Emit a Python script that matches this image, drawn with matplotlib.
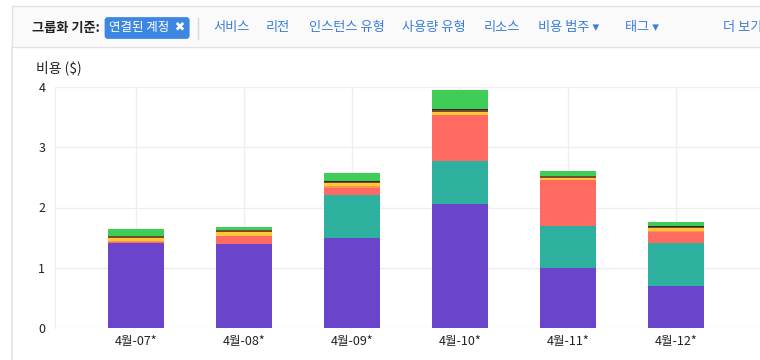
import numpy as np
import matplotlib
matplotlib.use("Agg")
import matplotlib.pyplot as plt
from matplotlib.patches import Rectangle

plt.rcParams["font.family"] = ["Noto Sans CJK KR", "DejaVu Sans"]

# Monthly cost per linked account (stacked, bottom to top)
months = ["4월-07*", "4월-08*", "4월-09*", "4월-10*", "4월-11*", "4월-12*"]
purple = [1.41, 1.40, 1.50, 2.06, 0.99, 0.70]
teal = [0.00, 0.00, 0.70, 0.72, 0.70, 0.71]
salmon = [0.02, 0.12, 0.13, 0.75, 0.76, 0.19]
orange = [0.02, 0.01, 0.02, 0.01, 0.01, 0.01]
yellow = [0.05, 0.06, 0.05, 0.04, 0.03, 0.045]
brown = [0.02, 0.03, 0.03, 0.03, 0.03, 0.025]
black = [0.005, 0.01, 0.01, 0.02, 0.01, 0.01]
green = [0.12, 0.045, 0.14, 0.32, 0.07, 0.07]

series = [purple, teal, salmon, orange, yellow, brown, black, green]
colors = ["#6a45cc", "#2eb09f", "#ff6b60", "#ff9550", "#ffc834",
          "#7a4a2c", "#2a2a2a", "#3ecd57"]

filter_links = [("서비스", 213), ("리전", 266), ("인스턴스 유형", 309),
                ("사용량 유형", 402), ("리소스", 484), ("비용 범주 ▾", 538),
                ("태그 ▾", 625), ("더 보기", 723)]

W, H = 760, 360
fig = plt.figure(figsize=(W / 100, H / 100), dpi=100)


def fx(px):
    return px / W


def fy(py):
    return 1 - py / H


# toolbar panel and left border
fig.patches.append(Rectangle((fx(12), fy(47)), 1, fy(6) - fy(47),
                             transform=fig.transFigure, facecolor="#fafafa",
                             edgecolor="#e3e3e3", linewidth=1))
fig.add_artist(plt.Line2D([fx(12), fx(12)], [0, fy(47)], color="#e3e3e3",
                          linewidth=1.2))
fig.add_artist(plt.Line2D([fx(198), fx(198)], [fy(18), fy(39)],
                          color="#d9d9d9", linewidth=1))

fig.text(fx(32), fy(28), "그룹화 기준:", fontsize=9.5, fontweight="bold",
         color="#222222", va="center", ha="left")
fig.text(fx(109), fy(28), "연결된 계정  ✖", fontsize=9, color="white",
         va="center", ha="left",
         bbox=dict(boxstyle="round,pad=0.35,rounding_size=0.25",
                   facecolor="#3d87e2", edgecolor="none"))
for label, px in filter_links:
    fig.text(fx(px), fy(28), label, fontsize=9.5, color="#3b7ddb",
             va="center", ha="left")

fig.text(fx(36), fy(68), "비용 ($)", fontsize=10, color="#222222",
         va="center", ha="left")

ax = fig.add_axes([fx(55), fy(328), 1 - fx(55), fy(87) - fy(328)])
x = np.arange(len(months))
bottom = np.zeros(len(months))
for vals, c in zip(series, colors):
    ax.bar(x, vals, width=0.52, bottom=bottom, color=c, linewidth=0, zorder=3)
    bottom += np.array(vals)

ax.set_xlim(-0.75, 5.78)
ax.set_ylim(0, 4)
ax.set_yticks([0, 1, 2, 3, 4])
ax.set_xticks(x)
ax.set_xticklabels(months)
ax.tick_params(length=0, labelsize=9, colors="#222222")
ax.tick_params(axis="y", pad=7)
ax.tick_params(axis="x", pad=5)
ax.grid(True, color="#eeeeee", linewidth=0.9, zorder=0)
for side in ["top", "right", "bottom"]:
    ax.spines[side].set_visible(False)
ax.spines["left"].set_color("#eeeeee")

fig.savefig("out.png", dpi=100)
